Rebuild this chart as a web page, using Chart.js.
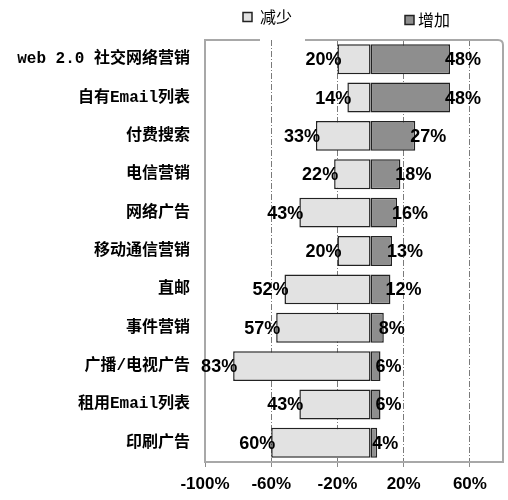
<!DOCTYPE html>
<html>
<head>
<meta charset="utf-8">
<script src="https://cdn.jsdelivr.net/npm/chart.js@4.4.0/dist/chart.umd.min.js"></script>
<style>
  html, body { margin: 0; padding: 0; background: #fff; }
  #wrap { width: 508px; height: 500px; }
</style>
</head>
<body>
<div id="wrap"><canvas id="myChart"></canvas></div>
<script>
// categories (top to bottom)
var categories = ["web 2.0 社交网络营销", "自有Email列表", "付费搜索", "电信营销", "网络广告",
  "移动通信营销", "直邮", "事件营销", "广播/电视广告", "租用Email列表", "印刷广告"];
// percentages
var decrease = [20, 14, 33, 22, 43, 20, 52, 57, 83, 43, 60];
var increase = [48, 48, 27, 18, 16, 13, 12, 8, 6, 6, 4];
var tickValues = [-100, -60, -20, 20, 60];

// frame round the plot and the legend above it
const frameLegend = {
  id: 'frameLegend',
  afterDraw(chart) {
    const ctx = chart.ctx, a = chart.chartArea;
    ctx.save();
    ctx.strokeStyle = '#a8a8a8';
    ctx.lineWidth = 2;
    ctx.beginPath();
    ctx.moveTo(a.left + 55, a.top);
    ctx.lineTo(a.left, a.top);
    ctx.lineTo(a.left, a.bottom);
    ctx.lineTo(a.right, a.bottom);
    ctx.lineTo(a.right, a.top + 5);
    ctx.quadraticCurveTo(a.right, a.top, a.right - 5, a.top);
    ctx.lineTo(a.left + 100, a.top);
    ctx.stroke();

    ctx.font = '16px "Noto Sans CJK SC", sans-serif';
    ctx.textBaseline = 'middle';
    ctx.textAlign = 'left';
    const pos = [[a.left + 38, 17], [a.left + 200, 20]];
    chart.data.datasets.forEach((ds, i) => {
      const [x, y] = pos[i];
      ctx.fillStyle = ds.backgroundColor;
      ctx.fillRect(x, y - 4.5, 9, 9);
      ctx.strokeStyle = '#222';
      ctx.lineWidth = 1.5;
      ctx.strokeRect(x, y - 4.5, 9, 9);
      ctx.fillStyle = '#000';
      ctx.fillText(ds.label, x + (i === 0 ? 17 : 13), y);
    });
    ctx.restore();
  }
};

// bar value labels (drawn last so they can spill over the frame)
const barLabels = {
  id: 'barLabels',
  afterDraw(chart) {
    const ctx = chart.ctx;
    ctx.save();
    ctx.font = 'bold 18px "Liberation Sans", Arial, sans-serif';
    ctx.fillStyle = '#000';
    ctx.textBaseline = 'middle';
    chart.data.datasets.forEach((ds, i) => {
      const meta = chart.getDatasetMeta(i);
      meta.data.forEach((el, j) => {
        const v = Math.abs(ds.data[j]) + '%';
        if (ds.data[j] < 0) {
          ctx.textAlign = 'right';
          ctx.fillText(v, el.x + 4, el.y + 1);
        } else {
          ctx.textAlign = 'left';
          ctx.fillText(v, el.x - 5, el.y + 1);
        }
      });
    });
    ctx.restore();
  }
};

new Chart(document.getElementById('myChart'), {
  type: 'bar',
  data: {
    labels: categories,
    datasets: [{
      label: '减少',
      data: decrease.map(v => -v),
      backgroundColor: '#e2e2e2',
      borderColor: '#222',
      borderWidth: 1.5,
      borderSkipped: false,
      barPercentage: 0.78,
      categoryPercentage: 1
    }, {
      label: '增加',
      data: increase,
      backgroundColor: '#8e8e8e',
      borderColor: '#222',
      borderWidth: 1.5,
      borderSkipped: false,
      barPercentage: 0.78,
      categoryPercentage: 1
    }]
  },
  options: {
    indexAxis: 'y',
    responsive: true,
    maintainAspectRatio: false,
    animation: false,
    layout: { padding: { top: 40, right: 5, bottom: 0, left: 0 } },
    plugins: { legend: { display: false }, tooltip: { enabled: false } },
    scales: {
      x: {
        stacked: true,
        min: -100,
        max: 80,
        afterBuildTicks: s => { s.ticks = tickValues.map(v => ({ value: v })); },
        afterFit: s => { s.height = 38; },
        border: { display: false, dash: [6, 2, 1, 2] },
        grid: {
          color: c => (c.tick && c.tick.value === -100) ? 'rgba(0,0,0,0)' : '#7a7a7a',
          tickColor: '#8a8a8a',
          tickLength: 5,
          lineWidth: 1
        },
        ticks: {
          padding: 7,
          color: '#000',
          font: { family: '"Liberation Sans", Arial, sans-serif', size: 17, weight: 'bold' },
          callback: v => v + '%'
        }
      },
      y: {
        stacked: true,
        afterFit: s => { s.width = 205; },
        border: { display: false },
        grid: { display: false },
        ticks: {
          padding: 7,
          color: '#000',
          font: { family: '"Liberation Mono", "Noto Sans CJK SC", monospace', size: 16, weight: 'bold' }
        }
      }
    }
  },
  plugins: [frameLegend, barLabels]
});
</script>
</body>
</html>
